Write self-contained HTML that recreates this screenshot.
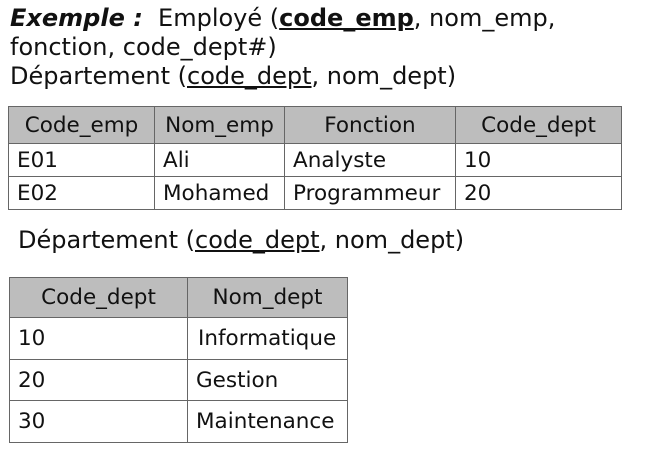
<!DOCTYPE html>
<html><head><meta charset="utf-8"><style>
body{margin:0;width:653px;height:457px;background:#fff;position:relative;font-family:"DejaVu Sans","Liberation Sans",sans-serif;color:#111;overflow:hidden}
.t{position:absolute;white-space:nowrap;font-size:24px;line-height:26px}
table{position:absolute;border-collapse:collapse;font-size:21.5px}
td,th{border:1.5px solid #666;padding:0 0 0 8px;font-weight:normal;text-align:left;white-space:nowrap}
th{background:#bdbdbd;text-align:center;padding:0}
</style></head><body>
<div class="t" style="left:10px;top:5px"><b><i>Exemple :</i></b>&nbsp; Employé (<b><u>code_emp</u></b>, nom_emp,</div>
<div class="t" style="left:10px;top:34px">fonction, code_dept#)</div>
<div class="t" style="left:10px;top:63px">Département (<u>code_dept</u>, nom_dept)</div>
<table style="left:8px;top:106px;width:614px">
<tr style="height:37px"><th style="width:145px">Code_emp</th><th style="width:129px">Nom_emp</th><th style="width:170px">Fonction</th><th>Code_dept</th></tr>
<tr style="height:33px"><td>E01</td><td>Ali</td><td>Analyste</td><td>10</td></tr>
<tr style="height:33px"><td>E02</td><td>Mohamed</td><td>Programmeur</td><td>20</td></tr>
</table>
<div class="t" style="left:18px;top:227px">Département (<u>code_dept</u>, nom_dept)</div>
<table style="left:9px;top:277px;width:339px">
<tr style="height:40px"><th style="width:177px">Code_dept</th><th>Nom_dept</th></tr>
<tr style="height:42px"><td>10</td><td style="padding-left:10px">Informatique</td></tr>
<tr style="height:41px"><td>20</td><td>Gestion</td></tr>
<tr style="height:42px"><td>30</td><td>Maintenance</td></tr>
</table>
</body></html>
